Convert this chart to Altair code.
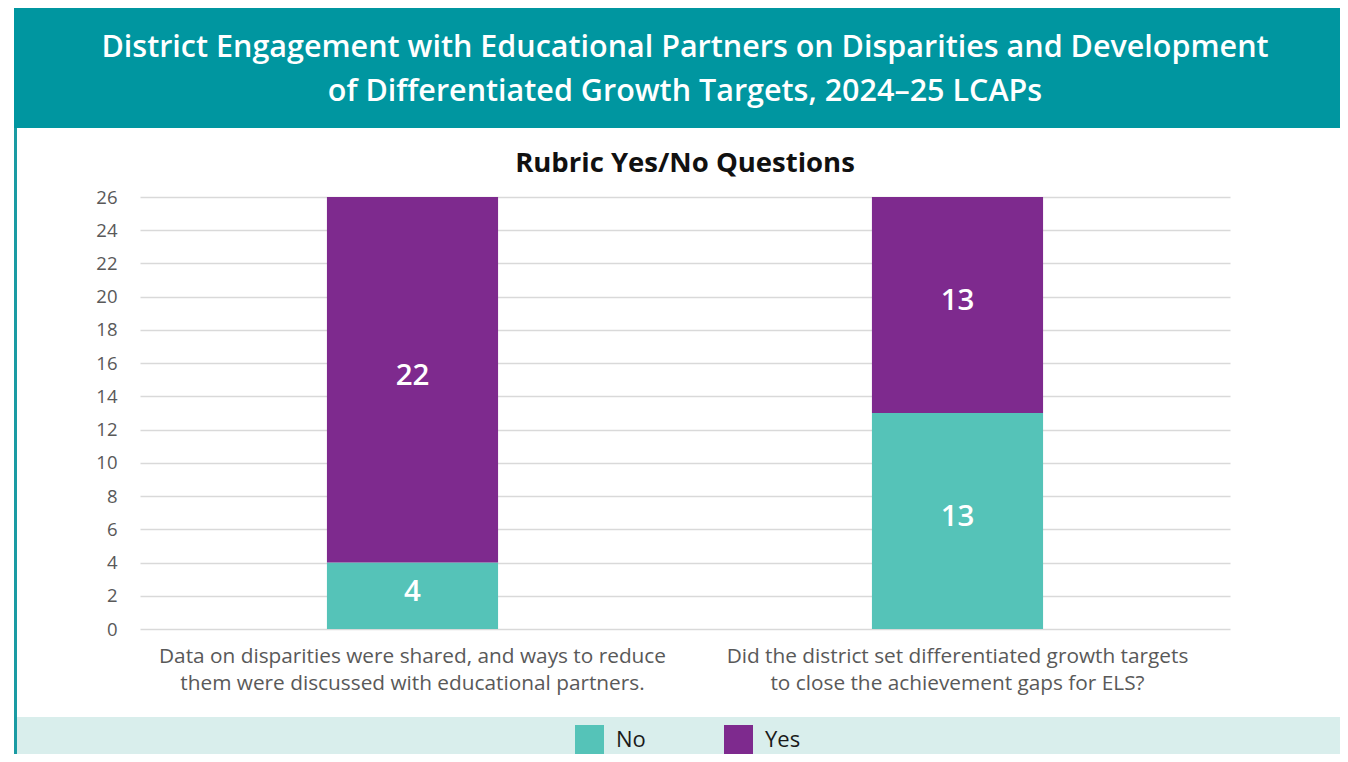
import altair as alt
import pandas as pd

questions = [
    "Data on disparities were shared, and ways to reduce\nthem were discussed with educational partners.",
    "Did the district set differentiated growth targets\nto close the achievement gaps for ELS?",
]
responses = ["No", "Yes"]
no_values = [4, 13]
yes_values = [22, 13]
y_ticks = list(range(0, 27, 2))

rows = []
for q, n, y in zip(questions, no_values, yes_values):
    rows.append({"question": q, "response": "No", "count": n, "order": 0})
    rows.append({"question": q, "response": "Yes", "count": y, "order": 1})
df = pd.DataFrame(rows)

FONT = "Open Sans"
W, H = 1090, 432
PAD = {"left": 132, "top": 189, "right": 110, "bottom": 125}

dummy = alt.Data(values=[{"k": 1}])

header = alt.Chart(dummy).mark_rect(color="#0096a0").encode(
    x=alt.value(-126), x2=alt.value(1300), y=alt.value(-189), y2=alt.value(-69)
)
legend_band = alt.Chart(dummy).mark_rect(color="#d9eeec").encode(
    x=alt.value(-123), x2=alt.value(1300), y=alt.value(520), y2=alt.value(600)
)
left_line = alt.Chart(dummy).mark_rect(color="#1a9ba3").encode(
    x=alt.value(-126), x2=alt.value(-123), y=alt.value(-69), y2=alt.value(600)
)

x_axis = alt.Axis(
    title=None, labelAngle=0, labelExpr="split(datum.label, '\\n')",
    labelFontSize=20.8, labelColor="#595959", labelFont=FONT,
    labelLineHeight=27, labelPadding=17, ticks=False, domain=False,
    labelLimit=700,
)
y_axis = alt.Axis(
    title=None, values=y_ticks, labelFontSize=18.5, labelColor="#595959",
    labelFont=FONT, labelPadding=23, ticks=False, domain=False,
    gridColor="#d9d9d9", gridWidth=1.5, labelOverlap=False,
)
x_scale = alt.Scale(paddingInner=0.686, paddingOuter=0.343)
y_scale = alt.Scale(domain=[0, 26], nice=False)

bars = alt.Chart(df).mark_bar().encode(
    x=alt.X("question:N", sort=questions, scale=x_scale, axis=x_axis),
    y=alt.Y("count:Q", stack="zero", scale=y_scale, axis=y_axis),
    color=alt.Color(
        "response:N",
        scale=alt.Scale(domain=responses, range=["#55c3b8", "#7e2a8e"]),
        legend=alt.Legend(
            title=None, orient="none", direction="horizontal",
            legendX=435, legendY=528, symbolType="square", symbolSize=841,
            symbolStrokeWidth=0, symbolOpacity=1, labelFontSize=22,
            labelFont=FONT, labelColor="#1a1a1a", labelOffset=12,
            columnPadding=78, padding=0,
        ),
    ),
    order=alt.Order("order:Q"),
)

labels = alt.Chart(df).transform_stack(
    stack="count", groupby=["question"], as_=["y0", "y1"],
    sort=[alt.SortField("order", order="ascending")],
).transform_calculate(mid="(datum.y0 + datum.y1) / 2").mark_text(
    color="white", fontSize=29.5, font=FONT, fontWeight=600, baseline="middle",
    dy=-4,
).encode(
    x=alt.X("question:N", sort=questions, scale=x_scale, axis=x_axis),
    y=alt.Y("mid:Q", scale=y_scale, axis=y_axis),
    text=alt.Text("count:Q"),
)

chart = alt.layer(header, legend_band, left_line, bars, labels).properties(
    width=W, height=H,
    autosize=alt.AutoSizeParams(type="none"),
    padding=PAD,
    background="white",
    title=alt.TitleParams(
        text=["District Engagement with Educational Partners on Disparities and Development",
              "of Differentiated Growth Targets, 2024\u201325 LCAPs"],
        subtitle="Rubric Yes/No Questions",
        anchor="middle", frame="group", color="white", fontSize=30.5, font=FONT,
        fontWeight=600, lineHeight=44, subtitleColor="#111111",
        subtitleFontSize=27.5, subtitleFont=FONT, subtitleFontWeight="bold",
        subtitlePadding=42, offset=-169,
    ),
).configure_view(stroke=None)

chart.save("out.html", embed_options={"renderer": "svg", "actions": False})
